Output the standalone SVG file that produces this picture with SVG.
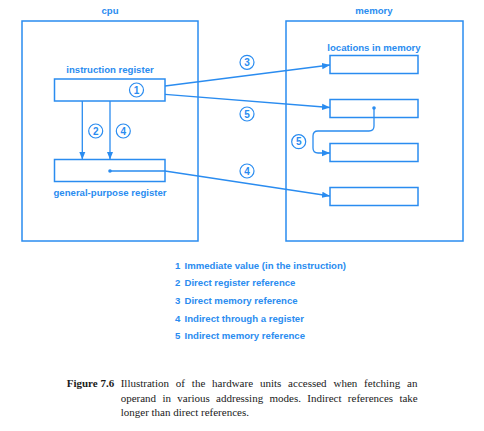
<svg xmlns="http://www.w3.org/2000/svg" width="484" height="431" viewBox="0 0 484 431">
<style>
.b{fill:none;stroke:#2a8cf0;stroke-width:1.5}
.l{fill:none;stroke:#2a8cf0;stroke-width:1.3}
.t{font-family:"Liberation Sans",Arial,sans-serif;font-weight:bold;font-size:9.6px;fill:#2a8cf0}
.c{fill:#fff;stroke:#2a8cf0;stroke-width:1.2}
.n{font-family:"Liberation Sans",Arial,sans-serif;font-weight:bold;font-size:10px;fill:#2a8cf0;text-anchor:middle}
.cap{font-family:"Liberation Serif","Times New Roman",serif;font-size:11px;fill:#1a1a1a}
</style>
<defs>
<marker id="ah" viewBox="0 0 10 10" refX="10" refY="5" markerWidth="8" markerHeight="8" markerUnits="userSpaceOnUse" orient="auto">
<path d="M0,1 L10,5 L0,9 Z" fill="#2a8cf0"/>
</marker>
</defs>
<rect width="484" height="431" fill="#fff"/>
<g id="cpu">
<rect class="b" x="22" y="21" width="176" height="220"/>
<text class="t" x="110" y="14" text-anchor="middle">cpu</text>
</g>
<g id="memory">
<rect class="b" x="286" y="21" width="177" height="220"/>
<text class="t" x="374" y="14" text-anchor="middle">memory</text>
<text class="t" x="374" y="51" text-anchor="middle">locations in memory</text>
</g>
<g id="instruction-register">
<rect class="b" x="54.5" y="79" width="110.5" height="22"/>
<text class="t" x="110" y="73" text-anchor="middle">instruction register</text>
<circle class="c" cx="136.5" cy="90" r="7"/>
<text class="n" x="136.5" y="93.6">1</text>
</g>
<g id="general-purpose-register">
<rect class="b" x="54.5" y="159.5" width="110.5" height="22"/>
<text class="t" x="110" y="196" text-anchor="middle">general-purpose register</text>
<circle cx="110" cy="171" r="1.8" fill="#2a8cf0"/>
</g>
<g id="mem1"><rect class="b" x="330" y="55.5" width="88" height="18"/></g>
<g id="mem2"><rect class="b" x="330" y="99.5" width="88" height="18"/><circle cx="374" cy="108" r="1.8" fill="#2a8cf0"/></g>
<g id="mem3"><rect class="b" x="330" y="143.5" width="88" height="18"/></g>
<g id="mem4"><rect class="b" x="330" y="187.5" width="88" height="18"/></g>
<g id="connectors">
<line class="l" x1="82.3" y1="101" x2="82.3" y2="159.5" marker-end="url(#ah)"/>
<line class="l" x1="110" y1="101" x2="110" y2="159.5" marker-end="url(#ah)"/>
<line class="l" x1="165" y1="86" x2="330" y2="65" marker-end="url(#ah)"/>
<line class="l" x1="165" y1="94.3" x2="330" y2="107.5" marker-end="url(#ah)"/>
<path class="l" d="M110,171 H165 L330,196" marker-end="url(#ah)"/>
<path class="l" d="M374,108 V126 Q374,131 369,131 H318 Q313,131 313,136 V148 Q313,153 318,153 H330" marker-end="url(#ah)"/>
<circle class="c" cx="95.7" cy="131" r="7"/><text class="n" x="95.7" y="134.6">2</text>
<circle class="c" cx="123.3" cy="131" r="7"/><text class="n" x="123.3" y="134.6">4</text>
<circle class="c" cx="247" cy="62.3" r="7"/><text class="n" x="247" y="65.9">3</text>
<circle class="c" cx="247" cy="114" r="7"/><text class="n" x="247" y="117.6">5</text>
<circle class="c" cx="247" cy="171" r="7"/><text class="n" x="247" y="174.6">4</text>
<circle class="c" cx="298.7" cy="141.7" r="7"/><text class="n" x="298.7" y="145.3">5</text>
</g>
<g id="legend">
<text class="t" x="175" y="268.5">1 <tspan dx="1.5">Immediate value (in the instruction)</tspan></text>
<text class="t" x="175" y="286.3">2 <tspan dx="1.5">Direct register reference</tspan></text>
<text class="t" x="175" y="304">3 <tspan dx="1.5">Direct memory reference</tspan></text>
<text class="t" x="175" y="321.7">4 <tspan dx="1.5">Indirect through a register</tspan></text>
<text class="t" x="175" y="339.4">5 <tspan dx="1.5">Indirect memory reference</tspan></text>
</g>
<g id="caption">
<text class="cap" x="66.7" y="387" font-weight="bold">Figure 7.6</text>
<text class="cap" x="120.7" y="387" word-spacing="4.1">Illustration of the hardware units accessed when fetching an</text>
<text class="cap" x="120.7" y="401.7" word-spacing="3.6">operand in various addressing modes. Indirect references take</text>
<text class="cap" x="120.7" y="416">longer than direct references.</text>
</g>
</svg>
